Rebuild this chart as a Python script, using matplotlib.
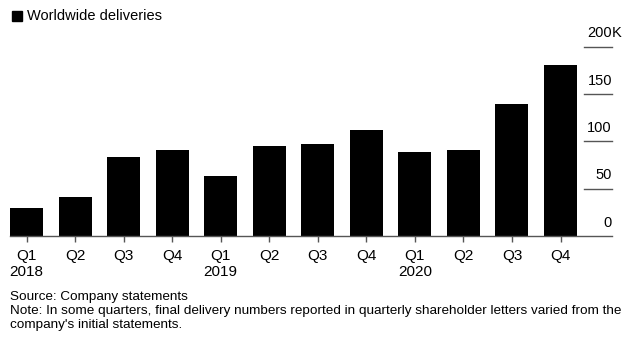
import matplotlib
matplotlib.use("Agg")
import matplotlib.pyplot as plt
from matplotlib.patches import Rectangle

plt.rcParams["font.family"] = ["Liberation Sans", "DejaVu Sans"]

# ---------- DATA ----------
quarters = ["Q1", "Q2", "Q3", "Q4", "Q1", "Q2", "Q3", "Q4", "Q1", "Q2", "Q3", "Q4"]
years = ["2018", "", "", "", "2019", "", "", "", "2020", "", "", ""]
deliveries_k = [29.98, 40.74, 83.5, 90.7, 63.0, 95.2, 97.0, 112.0, 88.4, 90.65, 139.3, 180.57]
y_ticks = [0, 50, 100, 150, 200]
y_labels = ["0", "50", "100", "150", "200"]

W, H = 635, 349
fig = plt.figure(figsize=(W / 100, H / 100), dpi=100)

left, right = 10, 612
bottom, top = 236, 46.7
ax = fig.add_axes([left / W, (H - bottom) / H, (right - left) / W, (bottom - top) / H])

x = list(range(len(deliveries_k)))
ax.bar(x, deliveries_k, width=0.68, color="black", zorder=2)
ax.set_xlim(-0.34, 12.06)
ax.set_ylim(0, 200)

for s in ["top", "right", "left"]:
    ax.spines[s].set_visible(False)
ax.spines["bottom"].set_color("#555555")
ax.spines["bottom"].set_linewidth(1.0)
ax.set_yticks([])

labels = [q + ("\n" + y if y else "") for q, y in zip(quarters, years)]
ax.set_xticks(x)
ax.set_xticklabels(labels, fontsize=11, linespacing=1.15, color="black", va="top")
ax.tick_params(axis="x", length=4, width=1, color="#555555", pad=5.5)

# ---------- Y LABELS ON RIGHT ----------
trans = ax.get_yaxis_transform()
for v, lab in zip(y_ticks, y_labels):
    if v > 0:
        ax.plot([0.953, 1.0], [v, v], transform=trans, color="#555555", lw=1, clip_on=False)
    ax.annotate(lab, xy=(1.0, v), xycoords=trans, xytext=(0, 4.5), textcoords="offset points",
                ha="right", va="bottom", fontsize=10.5)
ax.annotate("K", xy=(1.0, 200), xycoords=trans, xytext=(0, 4.5), textcoords="offset points",
            ha="left", va="bottom", fontsize=10.5)

# ---------- LEGEND / TITLE ----------
fig.patches.append(Rectangle((12 / W, 1 - 21 / H), 10 / W, 10 / H,
                             transform=fig.transFigure, color="black"))
fig.text(27 / W, 1 - 16 / H, "Worldwide deliveries", fontsize=10.5, va="center", ha="left")

# ---------- FOOTER ----------
fig.text(10 / W, 1 - 297 / H, "Source: Company statements", fontsize=9.7, va="center")
fig.text(10 / W, 1 - 311 / H,
         "Note: In some quarters, final delivery numbers reported in quarterly shareholder letters varied from the",
         fontsize=9.7, va="center")
fig.text(10 / W, 1 - 325 / H, "company's initial statements.", fontsize=9.7, va="center")

fig.savefig("out.png", dpi=100)
